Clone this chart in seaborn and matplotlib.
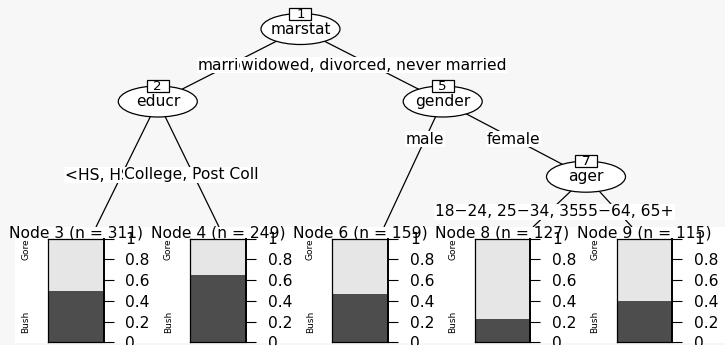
import numpy as np
import pandas as pd
import matplotlib
matplotlib.use("Agg")
import matplotlib.pyplot as plt
from matplotlib.patches import Ellipse, Rectangle
import seaborn as sns

# terminal nodes of the conditional inference tree
leaf_ids = [3, 4, 6, 8, 9]
leaf_n = [311, 249, 159, 127, 115]
bush_share = [0.49, 0.65, 0.47, 0.22, 0.40]
classes = ["Bush", "Gore"]
tick_vals = [0, 0.2, 0.4, 0.6, 0.8, 1]
tick_labels = ["0", "0.2", "0.4", "0.6", "0.8", "1"]

# inner nodes: id, split variable
inner_ids = [1, 2, 5, 7]
inner_vars = ["marstat", "educr", "gender", "ager"]

# edge labels (left child, right child) per inner node
split_labels = [("married", "widowed, divorced, never married"),
                ("<HS, HS", "College, Post Coll"),
                ("male", "female"),
                ("18\u221224, 25\u221234, 35\u221244, 45\u221254", "55\u221264, 65+")]

sns.set_theme(style="white")
plt.rcParams["font.family"] = ["DejaVu Sans"]
plt.rcParams["text.color"] = "black"
plt.rcParams["ytick.color"] = "black"

W, H = 725, 345
FS = 11.2
dark, light = "#4d4d4d", "#e6e6e6"
bg = "#f7f7f7"

fig = plt.figure(figsize=(7.25, 3.45), dpi=100, facecolor=bg)
ax = fig.add_axes([0, 0, 1, 1])
ax.set_xlim(0, W)
ax.set_ylim(H, 0)
ax.axis("off")

# layout in pixels
node_pos = {1: (300.5, 29), 2: (157.8, 101.5), 5: (442.7, 101.5), 7: (586, 176.7)}
panel_top = 227
edges = [(1, (157.8, 101.5)), (1, (442.7, 101.5)),
         (2, (96, panel_top)), (2, (219, panel_top)),
         (5, (384, panel_top)), (5, (586, 176.7)),
         (7, (533, panel_top)), (7, (632, panel_top))]
for p, (cx, cy) in edges:
    px, py = node_pos[p]
    ax.plot([px, cx], [py, cy], color="black", lw=0.9, zorder=1,
            solid_capstyle="butt")

# split label positions: (left start x, right centre x, y)
label_pos = [(198, 373.5, 65), (65, 191.5, 175), (None, None, 139), (435, 626, 212)]
simple_pos = {2: (424.7, 513.3)}
bb = dict(boxstyle="square,pad=0.05", fc="white", ec="none")
for i, (lab_l, lab_r) in enumerate(split_labels):
    lx, rx, y = label_pos[i]
    if i in simple_pos:
        lx, rx = simple_pos[i]
        ax.text(lx, y, lab_l, ha="center", va="center", fontsize=FS, bbox=bb, zorder=3)
    else:
        ax.text(lx, y, lab_l, ha="left", va="center", fontsize=FS, bbox=bb, zorder=3)
    ax.text(rx, y, lab_r, ha="center", va="center", fontsize=FS, bbox=bb, zorder=4)

# inner nodes
ew, eh = 79, 31
for nid, var in zip(inner_ids, inner_vars):
    x, y = node_pos[nid]
    ax.add_patch(Ellipse((x, y), ew, eh, fc="white", ec="black", lw=0.9, zorder=5))
    ax.text(x, y, var, ha="center", va="center", fontsize=FS, zorder=6)
    ax.add_patch(Rectangle((x - 11, y - eh / 2 - 6), 22, 12, fc="white",
                           ec="black", lw=0.9, zorder=6))
    ax.text(x, y - eh / 2 + 0.5, str(nid), ha="center", va="center",
            fontsize=FS - 1.5, zorder=7)

# white band for terminal panels
ax.add_patch(Rectangle((15, panel_top), W - 15, 342.5 - panel_top, fc="white",
                       ec="none", zorder=8))

bar_w = 55.5
bar_top, bar_bot = 238.5, 342.3
for i, (nid, n, b) in enumerate(zip(leaf_ids, leaf_n, bush_share)):
    left = 48 + 142.2 * i
    ax.text(left + bar_w / 2, 233, f"Node {nid} (n = {n})", ha="center",
            va="center", fontsize=FS, zorder=9)
    bax = fig.add_axes([left / W, (H - bar_bot) / H, bar_w / W,
                        (bar_bot - bar_top) / H])
    bax.set_zorder(10)
    df = pd.DataFrame({"k": [0], "total": [1.0], "bush": [b]})
    sns.barplot(data=df, x="k", y="total", color=light, saturation=1,
                width=1, ax=bax, edgecolor="none")
    sns.barplot(data=df, x="k", y="bush", color=dark, saturation=1,
                width=1, ax=bax, edgecolor="none")
    bax.set_xlim(-0.5, 0.5)
    bax.set_ylim(0, 1)
    bax.set_xlabel("")
    bax.set_ylabel("")
    bax.set_xticks([])
    bax.yaxis.tick_right()
    bax.set_yticks(tick_vals)
    bax.set_yticklabels(tick_labels)
    bax.tick_params(axis="y", length=7.2, width=0.8, pad=8.6, labelsize=FS,
                    direction="out", colors="black", right=True, left=False)
    for s in bax.spines.values():
        s.set_visible(True)
        s.set_color("black")
        s.set_linewidth(0.9)
    bax.spines["right"].set_linewidth(1.4)
    # class labels on the left
    bax.text(-22 / bar_w, 1.0, classes[1], rotation=90, ha="center", va="top",
             fontsize=6.5, transform=bax.transAxes, clip_on=False)
    bax.text(-22 / bar_w, 0.085, classes[0], rotation=90, ha="center",
             va="bottom", fontsize=6.5, transform=bax.transAxes, clip_on=False)

fig.savefig("out.png", dpi=100, facecolor=bg)
